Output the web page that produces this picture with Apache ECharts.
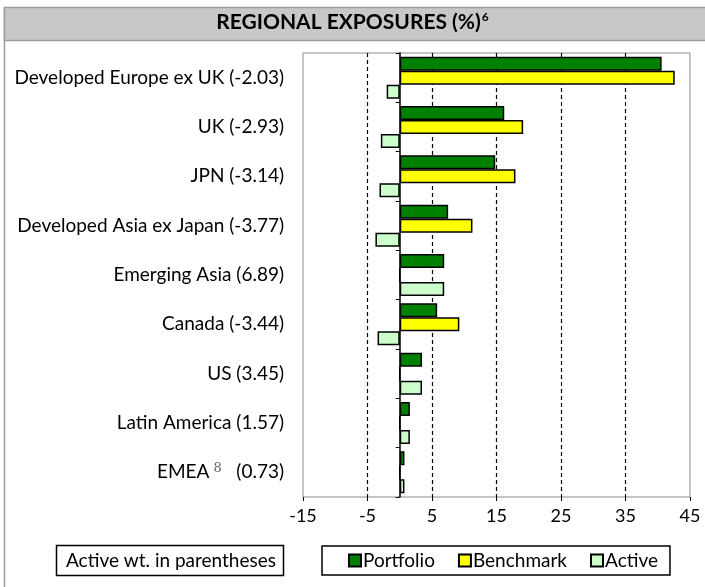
<!DOCTYPE html>
<html>
<head>
<meta charset="utf-8">
<script src="https://cdn.jsdelivr.net/npm/echarts@6/dist/echarts.min.js"></script>
<style>
  html, body { margin: 0; padding: 0; background: #fff; }
  #chart { width: 705px; height: 587px; }
</style>
</head>
<body>
<div id="chart"></div>
<script>
  // regional exposures, top to bottom
  const regions = ['Developed Europe ex UK', 'UK', 'JPN', 'Developed Asia ex Japan', 'Emerging Asia', 'Canada', 'US', 'Latin America', 'EMEA']
  const footnotes = ['', '', '', '', '', '', '', '', '8']
  const portfolio = [40.6, 16.2, 14.8, 7.5, 6.89, 5.8, 3.45, 1.57, 0.73]
  const benchmark = [42.63, 19.13, 17.94, 11.27, 0, 9.24, 0, 0, 0]
  const active = [-2.03, -2.93, -3.14, -3.77, 6.89, -3.44, 3.45, 1.57, 0.73]
  const xTicks = [-15, -5, 5, 15, 25, 35, 45]
  const gridValues = [-5, 5, 15, 25, 35]

  const font = 'Lato, "Open Sans", sans-serif'

  const labels = regions.map((r, i) => {
    const a = '(' + active[i].toFixed(2) + ')'
    return footnotes[i] ? r + '{sup|' + footnotes[i] + '}   ' + a : r + ' ' + a
  })

  const chart = echarts.init(document.getElementById('chart'))

  const barStyle = (color) => ({
    color: color,
    borderColor: '#000',
    borderWidth: 1.5
  })

  chart.setOption({
    animation: false,
    textStyle: {fontFamily: font},
    grid: {
      left: 303,
      right: 15,
      top: 53,
      bottom: 90,
      show: true,
      borderColor: '#8c8c8c',
      borderWidth: 1
    },
    legend: {
      left: 322,
      top: 546,
      padding: [5, 12, 5, 26],
      itemWidth: 12,
      itemHeight: 12,
      itemGap: 23,
      borderColor: '#000',
      borderWidth: 1.5,
      icon: 'rect',
      textStyle: {fontSize: 19, color: '#000', fontFamily: font, padding: [0, 0, 0, -3]},
      data: ['Portfolio', 'Benchmark', 'Active']
    },
    xAxis: {
      type: 'value',
      min: -15,
      max: 45,
      axisLine: {lineStyle: {color: '#000', width: 1.5}},
      axisTick: {show: true, length: 4, customValues: xTicks, lineStyle: {color: '#000'}},
      axisLabel: {customValues: xTicks, fontSize: 18, color: '#000', margin: 10},
      splitLine: {show: false}
    },
    yAxis: [{
      type: 'category',
      inverse: true,
      data: labels,
      axisLine: {onZero: true, lineStyle: {color: '#000', width: 1.5}},
      axisTick: {show: true, length: 4, lineStyle: {color: '#000'}},
      axisLabel: {show: false}
    }, {
      type: 'category',
      inverse: true,
      position: 'left',
      data: labels,
      axisLine: {show: false, onZero: false},
      axisTick: {show: false},
      axisLabel: {
        fontSize: 19,
        color: '#000',
        margin: 19,
        rich: {
          sup: {fontSize: 13, color: '#666', fontFamily: 'DejaVu Serif', verticalAlign: 'top', padding: [0, 0, 8, 4]}
        }
      }
    }],
    series: [{
      name: 'Portfolio',
      type: 'bar',
      data: portfolio,
      barGap: '0%',
      barCategoryGap: '15%',
      itemStyle: barStyle('#008000'),
      markLine: {
        silent: true,
        symbol: 'none',
        z: 1,
        label: {show: false},
        lineStyle: {color: '#000', type: [4, 3], width: 1.2},
        data: gridValues.map(v => ({xAxis: v}))
      }
    }, {
      name: 'Benchmark',
      type: 'bar',
      data: benchmark,
      barGap: '0%',
      barCategoryGap: '15%',
      itemStyle: barStyle('#ffff00')
    }, {
      name: 'Active',
      type: 'bar',
      data: active,
      barGap: '0%',
      barCategoryGap: '15%',
      itemStyle: barStyle('#ccffcc')
    }],
    graphic: [{
      type: 'line',
      shape: {x1: 4.5, y1: 7, x2: 4.5, y2: 587},
      style: {stroke: '#9a9a9a', lineWidth: 1.5}
    }, {
      type: 'rect',
      shape: {x: 4.5, y: 7.5, width: 705, height: 33},
      style: {fill: '#c8c8c8', stroke: '#9a9a9a', lineWidth: 1.5}
    }, {
      type: 'text',
      left: 'center',
      top: 11,
      style: {
        text: '{t|REGIONAL EXPOSURES (%)}{s|6}',
        rich: {
          t: {fontSize: 21, fontWeight: 'bold', fontFamily: font, fill: '#000'},
          s: {fontSize: 12, fontWeight: 'bold', fontFamily: font, fill: '#000', verticalAlign: 'top', padding: [0, 0, 11, 1]}
        }
      }
    }, {
      type: 'rect',
      shape: {x: 56.5, y: 545.5, width: 227, height: 30},
      style: {fill: '#fff', stroke: '#000', lineWidth: 1.5}
    }, {
      type: 'text',
      x: 66,
      y: 560.5,
      style: {
        text: 'Active wt. in parentheses',
        fontSize: 19,
        fontFamily: font,
        fill: '#000',
        verticalAlign: 'middle'
      }
    }]
  })
</script>
</body>
</html>
